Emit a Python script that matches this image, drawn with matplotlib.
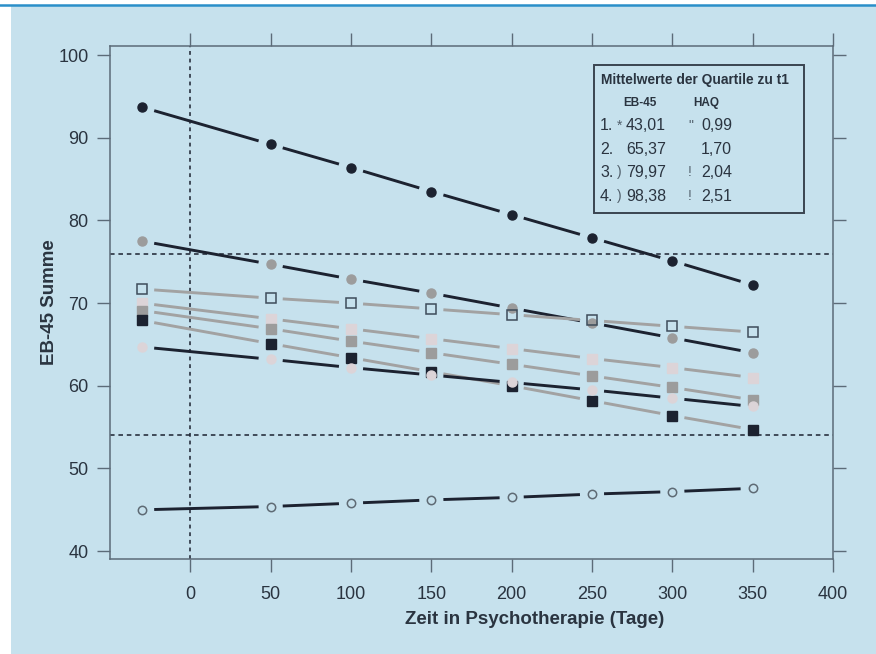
import numpy as np
import matplotlib.pyplot as plt
from matplotlib.patches import Rectangle
from matplotlib.lines import Line2D

plt.rcParams['font.family'] = ['Liberation Sans', 'DejaVu Sans']

# Messzeitpunkte (Tage)
tage = [-30, 50, 100, 150, 200, 250, 300, 350]

# EB-45 Summe je Gruppe
kreis_schwarz = [93.7, 89.2, 86.4, 83.5, 80.7, 77.9, 75.1, 72.2]
kreis_grau = [77.5, 74.7, 72.9, 71.2, 69.4, 67.6, 65.8, 64.0]
quadrat_offen = [71.7, 70.6, 70.0, 69.3, 68.6, 67.9, 67.2, 66.5]
quadrat_hell = [70.0, 68.1, 66.9, 65.7, 64.5, 63.3, 62.2, 61.0]
quadrat_grau = [69.1, 66.9, 65.4, 64.0, 62.6, 61.2, 59.8, 58.3]
quadrat_schwarz = [67.9, 65.1, 63.4, 61.7, 60.0, 58.2, 56.4, 54.7]
kreis_hell = [64.7, 63.2, 62.2, 61.3, 60.4, 59.5, 58.5, 57.5]
kreis_offen = [45.0, 45.4, 45.8, 46.2, 46.5, 46.9, 47.2, 47.6]

grenze_oben = 75.9
grenze_unten = 54.1

quartile = ['1.', '2.', '3.', '4.']
sym_eb = ['*', '', ')', ')']
eb45 = ['43,01', '65,37', '79,97', '98,38']
sym_haq = ['"', '', '!', '!']
haq = ['0,99', '1,70', '2,04', '2,51']

BG = '#c6e1ed'
DARK = '#1c2230'
GRAU = '#9c9c9c'
HELL = '#dcd4d8'
LINIE_GRAU = '#a2a2a2'
ACHSE = '#5c6b78'
TEXT = '#2a3440'

W, H = 876, 654
fig = plt.figure(figsize=(W / 100, H / 100), dpi=100)
fig.patch.set_facecolor('white')
fig.patches.append(Rectangle((11 / W, 0), 1, 1 - 5 / H, transform=fig.transFigure,
                             facecolor=BG, edgecolor='none', zorder=-10))
fig.lines.append(Line2D([0, 1], [1 - 5 / H, 1 - 5 / H], transform=fig.transFigure,
                        color='#2a8fc9', lw=1.8))

ax = fig.add_axes([110 / W, 1 - 559 / H, (833 - 110) / W, (559 - 46) / H])
ax.set_facecolor(BG)
ax.set_xlim(-50, 400)
ax.set_ylim(39.05, 101.1)

gap = 7.5


def reihe(y, linie, marker, mfc, mec, ms, mew=1.0):
    x = np.array(tage, dtype=float)
    y = np.array(y, dtype=float)
    for i in range(len(x) - 1):
        xs = np.array([x[i] + gap, x[i + 1] - gap])
        ax.plot(xs, np.interp(xs, x, y), color=linie, lw=2.1,
                solid_capstyle='butt', zorder=2)
    ax.plot(x, y, ls='none', marker=marker, ms=ms, mfc=mfc, mec=mec,
            mew=mew, zorder=3)


ax.axhline(grenze_oben, color=DARK, lw=1.1, ls=(0, (3, 2.5)), zorder=1)
ax.axhline(grenze_unten, color=DARK, lw=1.1, ls=(0, (3, 2.5)), zorder=1)
ax.axvline(0, color=DARK, lw=1.1, ls=(0, (2.5, 2.5)), zorder=1)

reihe(kreis_schwarz, DARK, 'o', DARK, DARK, 6.5)
reihe(kreis_grau, DARK, 'o', GRAU, GRAU, 6.5)
reihe(quadrat_offen, LINIE_GRAU, 's', 'none', '#3e4c5a', 6.5, 1.1)
reihe(quadrat_hell, LINIE_GRAU, 's', HELL, HELL, 6.5)
reihe(quadrat_grau, LINIE_GRAU, 's', GRAU, GRAU, 6.5)
reihe(quadrat_schwarz, LINIE_GRAU, 's', DARK, DARK, 6.5)
reihe(kreis_hell, DARK, 'o', HELL, HELL, 6.5)
reihe(kreis_offen, DARK, 'o', 'none', '#5e6a74', 6.0, 1.1)

ax.set_xticks([0, 50, 100, 150, 200, 250, 300, 350, 400])
ax.set_yticks([40, 50, 60, 70, 80, 90, 100])
ax.tick_params(axis='both', which='both', direction='out', length=9.5, width=1.0,
               color=ACHSE, labelcolor=TEXT, labelsize=13,
               top=True, right=True, labeltop=False, labelright=False)
ax.tick_params(axis='x', pad=10)
ax.tick_params(axis='y', pad=6)
for s in ax.spines.values():
    s.set_color(ACHSE)
    s.set_linewidth(1.1)

ax.set_xlabel('Zeit in Psychotherapie (Tage)', fontsize=13.5, fontweight='bold',
              color=TEXT)
ax.xaxis.set_label_coords((535 - 110) / 723, (559 - 611) / 513)
ax.set_ylabel('EB-45 Summe', fontsize=13.5, fontweight='bold', color=TEXT)
ax.yaxis.set_label_coords((58 - 110) / 723, 0.5)

# Legendenkasten
fig.patches.append(Rectangle((594 / W, 1 - 213 / H), (804 - 594) / W, (213 - 65) / H,
                             transform=fig.transFigure, facecolor='none',
                             edgecolor='#3a4450', lw=1.4, zorder=5))


def t(px, py, s, **kw):
    fig.text(px / W, 1 - py / H, s, va='center', ha='left', color=TEXT, **kw)


t(601, 80, 'Mittelwerte der Quartile zu t1', fontsize=9.9, fontweight='bold')
t(623, 103, 'EB-45', fontsize=8.5, fontweight='bold')
t(693, 103, 'HAQ', fontsize=8.5, fontweight='bold')
zeilen_y = [126, 149, 172, 196]
for q, se, e, sh, h, py in zip(quartile, sym_eb, eb45, sym_haq, haq, zeilen_y):
    t(600, py, q, fontsize=11.5)
    t(617, py, se, fontsize=10, alpha=0.75)
    t(626, py, e, fontsize=11.5)
    t(688, py, sh, fontsize=10, alpha=0.75)
    t(701, py, h, fontsize=11.5)

fig.savefig('out.png', dpi=100, facecolor=fig.get_facecolor())
